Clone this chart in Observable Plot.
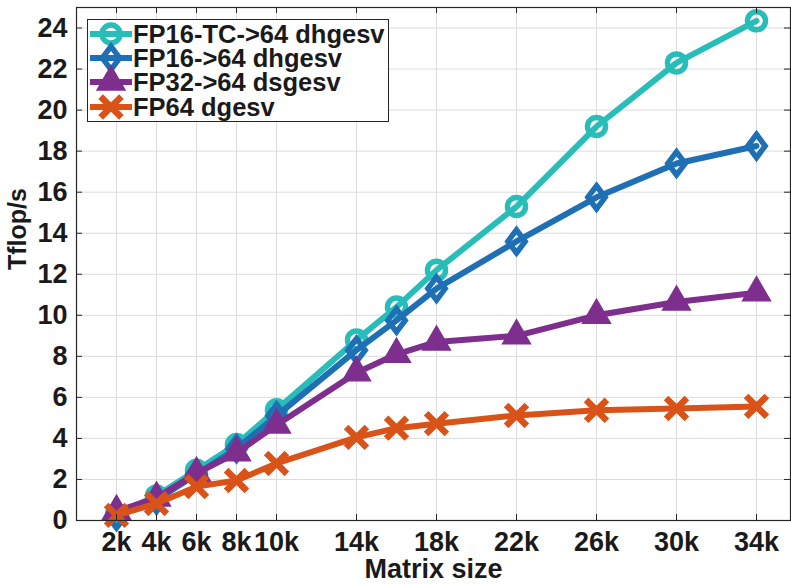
<!DOCTYPE html>
<html><head><meta charset="utf-8">
<script src="https://cdn.jsdelivr.net/npm/d3@7"></script>
<script src="https://cdn.jsdelivr.net/npm/@observablehq/plot@0.6"></script>
<style>
body{margin:0;background:#fff;}
#wrap{position:relative;width:791px;height:584px;font-family:"Liberation Sans",Arial,sans-serif;}
#legend{position:absolute;left:87px;top:19px;width:300px;height:101px;border:1.3px solid #262626;background:#fff;}
.row{position:absolute;left:0;height:24px;display:flex;align-items:center;}
.row svg{display:block;}
.row span{font-weight:bold;font-size:25.5px;line-height:24px;color:#1a1a1a;white-space:nowrap;}
</style></head><body><div id="wrap"></div>
<script>
const sizes = [2,4,6,8,10,14,16,18,22,26,30,34];
const fp16tc = [0.3,1.2,2.45,3.7,5.4,8.8,10.4,12.2,15.3,19.2,22.3,24.35];
const fp16   = [0.2,1.0,2.25,3.5,5.1,8.3,9.75,11.3,13.6,15.75,17.4,18.25];
const fp32   = [0.45,1.1,2.3,3.3,4.65,7.2,8.1,8.7,9.0,10.0,10.65,11.1];
const fp64   = [0.25,0.83,1.65,1.95,2.78,4.05,4.5,4.72,5.12,5.37,5.46,5.56];
const seriesNames = ["FP16-TC->64 dhgesv","FP16->64 dhgesv","FP32->64 dsgesv","FP64 dgesv"];
const colors = ["#29bdb9","#1f6fb4","#7e2f8e","#d95319"];
const xTicks = [2,4,6,8,10,14,18,22,26,30,34];
const xTickLabels = ["2k","4k","6k","8k","10k","14k","18k","22k","26k","30k","34k"];
const yTicks = [0,2,4,6,8,10,12,14,16,18,20,22,24];
const xLabel = "Matrix size";
const yLabel = "Tflop/s";

// Matlab-like diamond (fatter than d3's)
const fatDiamond = {
  draw(context, size) {
    const h = Math.sqrt(size / 1.5), w = 0.75 * h;
    context.moveTo(0, -h); context.lineTo(w, 0); context.lineTo(0, h); context.lineTo(-w, 0); context.closePath();
  }
};
const symbols = [d3.symbolCircle, fatDiamond, d3.symbolTriangle, d3.symbolTimes];

const W = 791, H = 584, mL = 76, mR = 1, mT = 7, mB = 64;
const innerW = W - mL - mR, innerH = H - mT - mB;
const all = [fp16tc, fp16, fp32, fp64];
const markerR = [9, 8, 10, 9.5];
const markerSW = [5.5, 5.5, 2, 6.5];
const markerFill = [false, false, true, false];
const axisColor = "#262626";
const font = '"Liberation Sans", Arial, sans-serif';

const seriesMarks = [];
all.forEach((vals, i) => {
  const rows = sizes.map((s, j) => ({size: s, value: vals[j]}));
  seriesMarks.push(Plot.line(rows, {x: "size", y: "value", stroke: colors[i], strokeWidth: 6, strokeLinejoin: "round"}));
  seriesMarks.push(Plot.dot(rows, {x: "size", y: "value", symbol: symbols[i], r: markerR[i],
    stroke: colors[i], strokeWidth: markerSW[i], fill: markerFill[i] ? colors[i] : "none"}));
});

const chart = Plot.plot({
  width: W, height: H,
  marginLeft: mL, marginRight: mR, marginTop: mT, marginBottom: mB,
  style: {fontFamily: font, fontSize: "27px", fontWeight: "bold", color: "#1a1a1a", background: "#fff"},
  x: {domain: [0, 35.7]},
  y: {domain: [0, 25]},
  marks: [
    Plot.gridX(xTicks, {stroke: "#dcdcdc", strokeOpacity: 1}),
    Plot.gridY(yTicks, {stroke: "#dcdcdc", strokeOpacity: 1}),
    ...seriesMarks,
    Plot.frame({stroke: axisColor, strokeWidth: 1.2}),
    Plot.tickX(xTicks, {stroke: axisColor, insetTop: innerH - 6}),
    Plot.tickX(xTicks, {stroke: axisColor, insetBottom: innerH - 6}),
    Plot.tickY(yTicks, {stroke: axisColor, insetRight: innerW - 6}),
    Plot.tickY(yTicks, {stroke: axisColor, insetLeft: innerW - 6}),
    Plot.axisX(xTicks, {tickSize: 0, tickPadding: 11, tickFormat: (d) => xTickLabels[xTicks.indexOf(d)], label: null}),
    Plot.axisY(yTicks, {tickSize: 0, tickPadding: 9, label: null}),
    Plot.text([xLabel], {text: (d) => d, frameAnchor: "bottom", lineAnchor: "bottom", dy: 57, fontSize: 27, fill: "#1a1a1a"}),
    Plot.text([yLabel], {text: (d) => d, frameAnchor: "left", lineAnchor: "top", rotate: -90, dx: -68, dy: 6, fontSize: 25, fill: "#1a1a1a"})
  ]
});
const wrap = document.getElementById("wrap");
wrap.appendChild(chart);

// legend
const legend = document.createElement("div");
legend.id = "legend";
const rowCenters = [14, 38, 62, 87];
seriesNames.forEach((name, i) => {
  const row = document.createElement("div");
  row.className = "row";
  row.style.top = (rowCenters[i] - 12) + "px";
  const svg = d3.create("svg").attr("width", 45).attr("height", 24).style("overflow", "visible");
  svg.append("line").attr("x1", 2).attr("x2", 44).attr("y1", 12).attr("y2", 12)
    .attr("stroke", colors[i]).attr("stroke-width", 6);
  svg.append("path").attr("transform", "translate(23,12)")
    .attr("d", d3.symbol(symbols[i], Math.PI * markerR[i] * markerR[i])())
    .attr("stroke", colors[i]).attr("stroke-width", markerSW[i])
    .attr("fill", markerFill[i] ? colors[i] : "none");
  row.appendChild(svg.node());
  const span = document.createElement("span");
  span.textContent = name;
  row.appendChild(span);
  legend.appendChild(row);
});
wrap.appendChild(legend);
</script></body></html>
